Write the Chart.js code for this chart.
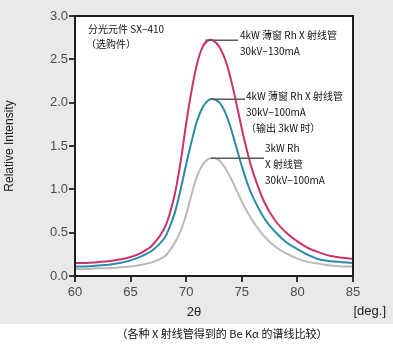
<!DOCTYPE html>
<html>
<head>
<meta charset="utf-8">
<style>
  html, body { margin: 0; padding: 0; background: #ffffff; }
  #wrap { width: 393px; height: 344px; position: relative; }
</style>
<script src="https://cdn.jsdelivr.net/npm/chart.js@4.4.1/dist/chart.umd.min.js"></script>
</head>
<body>
<div id="wrap"><canvas id="c" width="393" height="344"></canvas></div>
<script>
// 2θ angles (deg.) shared by all three spectra
const angles = [60, 61, 62, 63, 64, 65, 66, 67, 68, 68.5, 69, 69.5, 70, 70.5, 71, 71.5, 72, 72.5,
                73, 73.5, 74, 74.5, 75, 75.5, 76, 77, 78, 79, 80, 81, 82, 83, 84, 85];

// 4kW thin-window Rh tube, 30kV-130mA
const thinWindow130 = [0.15, 0.15, 0.16, 0.17, 0.19, 0.22, 0.27, 0.36, 0.54, 0.71, 0.96, 1.32, 1.76, 2.15, 2.46, 2.65, 2.72, 2.71,
                       2.64, 2.50, 2.28, 2.00, 1.70, 1.43, 1.20, 0.86, 0.64, 0.50, 0.40, 0.32, 0.27, 0.23, 0.21, 0.20];
// 4kW thin-window Rh tube, 30kV-100mA (3kW output)
const thinWindow100 = [0.11, 0.11, 0.12, 0.13, 0.15, 0.18, 0.23, 0.30, 0.43, 0.56, 0.74, 1.00, 1.29, 1.56, 1.80, 1.95, 2.03, 2.04,
                       2.00, 1.89, 1.71, 1.49, 1.27, 1.07, 0.91, 0.67, 0.51, 0.39, 0.31, 0.24, 0.19, 0.17, 0.16, 0.15];
// 3kW Rh tube, 30kV-100mA
const standard100 = [0.08, 0.08, 0.09, 0.09, 0.10, 0.11, 0.13, 0.16, 0.22, 0.29, 0.39, 0.52, 0.71, 0.95, 1.16, 1.29, 1.35, 1.36,
                     1.33, 1.25, 1.13, 1.00, 0.86, 0.74, 0.63, 0.46, 0.34, 0.26, 0.20, 0.16, 0.14, 0.12, 0.11, 0.11];

const xTicks = [60, 65, 70, 75, 80, 85];
const yTicks = [0, 0.5, 1.0, 1.5, 2.0, 2.5, 3.0];

const seriesLabels = [
  ['4kW 薄窗 Rh X 射线管', '30kV−130mA'],
  ['4kW 薄窗 Rh X 射线管', '30kV−100mA', '（输出 3kW 时）'],
  ['3kW Rh', 'X 射线管', '30kV−100mA']
];
const crystalNote = ['分光元件 SX−410', '（选购件）'];
const xTitle = '2θ';
const xUnit = '[deg.]';
const yTitle = 'Relative Intensity';
const caption = '（各种 X 射线管得到的 Be Kα 的谱线比较）';

const seriesValues = [thinWindow130, thinWindow100, standard100];
const seriesColors = ['#c9326c', '#2b8ba6', '#b9b9b9'];

function toPoints(vals) { return angles.map((a, i) => ({ x: a, y: vals[i] })); }

const CJK = '"Noto Sans CJK SC", "Liberation Sans", sans-serif';

// label block layout: text x, first line y, leader end x, line height
const labelLayout = [
  { tx: 240, ty: 35, lead: 238, lh: 16 },
  { tx: 246, ty: 96, lead: 245, lh: 16 },
  { tx: 265, ty: 148, lead: 264, lh: 16 }
];

const decor = {
  id: 'decor',
  beforeDraw(chart) {
    const ctx = chart.ctx, a = chart.chartArea;
    ctx.save();
    ctx.fillStyle = '#ffffff';
    ctx.fillRect(0, 0, chart.width, chart.height);
    ctx.fillStyle = '#ebe9e7';
    ctx.fillRect(0, 0, chart.width, 324);
    ctx.fillStyle = '#ffffff';
    ctx.fillRect(a.left, a.top, a.right - a.left, a.bottom - a.top);
    ctx.restore();
  },
  afterDatasetsDraw(chart) {
    const ctx = chart.ctx, a = chart.chartArea;
    const xs = chart.scales.x, ys = chart.scales.y;
    ctx.save();
    // leaders from each peak to its label
    seriesValues.forEach((vals, i) => {
      let m = 0;
      vals.forEach((v, j) => { if (v > vals[m]) m = j; });
      const px = xs.getPixelForValue(angles[m]) - 3;
      const py = ys.getPixelForValue(vals[m]);
      ctx.strokeStyle = '#5a5a5a';
      ctx.lineWidth = 1.5;
      ctx.beginPath();
      ctx.moveTo(px, py);
      ctx.lineTo(labelLayout[i].lead, py);
      ctx.stroke();
    });
    // plot frame
    ctx.strokeStyle = '#1e1e1e';
    ctx.lineWidth = 2;
    ctx.strokeRect(a.left, a.top, a.right - a.left, a.bottom - a.top);

    ctx.fillStyle = '#111';
    ctx.textBaseline = 'middle';
    ctx.textAlign = 'left';
    ctx.font = '10px ' + CJK;
    seriesLabels.forEach((lines, i) => {
      const L = labelLayout[i];
      lines.forEach((t, k) => ctx.fillText(t, L.tx, L.ty + k * L.lh));
    });
    ctx.fillText(crystalNote[0], 88, 29);
    ctx.fillText(crystalNote[1], 86, 44);

    ctx.fillStyle = '#222';
    ctx.font = '13px "Liberation Sans", sans-serif';
    ctx.textAlign = 'center';
    ctx.fillText(xTitle, 194, 312);
    ctx.textAlign = 'right';
    ctx.fillText(xUnit, 386, 311);

    ctx.fillStyle = '#111';
    ctx.font = '11px ' + CJK;
    ctx.textAlign = 'center';
    ctx.fillText(caption, 222, 334);
    ctx.restore();
  }
};

new Chart(document.getElementById('c'), {
  type: 'line',
  data: {
    datasets: seriesValues.map((vals, i) => ({
      data: toPoints(vals),
      borderColor: seriesColors[i],
      borderWidth: 2,
      pointRadius: 0,
      fill: false,
      tension: 0.35
    })).reverse()
  },
  options: {
    responsive: false,
    animation: false,
    devicePixelRatio: 1,
    layout: { padding: { top: 16, right: 40, bottom: 0, left: 0 } },
    plugins: { legend: { display: false }, tooltip: { enabled: false } },
    scales: {
      x: {
        type: 'linear',
        min: 60, max: 85,
        afterFit(s) { s.height = 68; },
        afterBuildTicks(s) { s.ticks = xTicks.map(v => ({ value: v })); },
        border: { display: false },
        grid: { display: true, drawOnChartArea: false, drawTicks: true, tickLength: 6, color: '#333', lineWidth: 2 },
        ticks: { padding: 3, color: '#4a4a4a', font: { size: 13, family: '"Liberation Sans", sans-serif' } }
      },
      y: {
        min: 0, max: 3,
        afterFit(s) { s.width = 75; },
        afterBuildTicks(s) { s.ticks = yTicks.map(v => ({ value: v })); },
        border: { display: false },
        grid: { display: true, drawOnChartArea: false, drawTicks: true, tickLength: 6, color: '#333', lineWidth: 2 },
        ticks: { padding: 1, color: '#4a4a4a', font: { size: 13, family: '"Liberation Sans", sans-serif' },
                 callback: v => v.toFixed(1) },
        title: { display: true, text: yTitle, color: '#1a1a1a', padding: { top: 2, bottom: 0 },
                 font: { size: 12, family: '"Liberation Sans", sans-serif' } }
      }
    }
  },
  plugins: [decor]
});
</script>
</body>
</html>
